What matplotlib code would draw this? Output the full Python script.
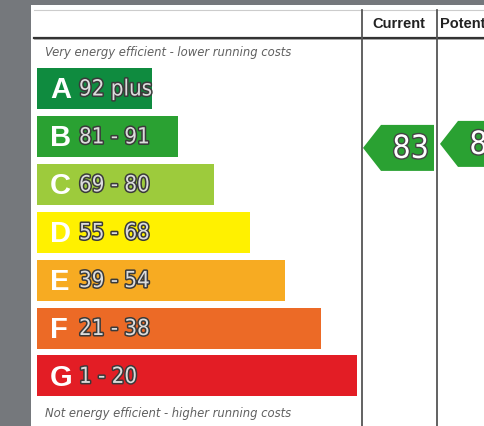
import matplotlib
matplotlib.use("Agg")
import matplotlib.pyplot as plt
from matplotlib.patches import Rectangle, Polygon
import matplotlib.patheffects as pe

# ---- data ----
bands = ["A", "B", "C", "D", "E", "F", "G"]
ranges = ["92 plus", "81 - 91", "69 - 80", "55 - 68", "39 - 54", "21 - 38", "1 - 20"]
band_lo = [92, 81, 69, 55, 39, 21, 1]
band_hi = [100, 91, 80, 68, 54, 38, 20]
colors = ["#0f8b3f", "#2aa132", "#9dcb3c", "#fff100", "#f7ab22", "#ec6a26", "#e31d25"]
headers = ["Current", "Potential"]
current = 83
potential = 84
top_note = "Very energy efficient - lower running costs"
bottom_note = "Not energy efficient - higher running costs"

W, H = 484, 427
fig = plt.figure(figsize=(W / 100, H / 100), dpi=100)
fig.patch.set_facecolor("#75787c")
ax = fig.add_axes([0, 0, 1, 1])
ax.set_xlim(0, W)
ax.set_ylim(H, 0)
ax.axis("off")

sans = ["Liberation Sans", "DejaVu Sans"]
cond = dict(family="DejaVu Sans", fontstretch="condensed")

# white panel
ax.add_patch(Rectangle((31, 6), 470, 440, facecolor="white", edgecolor="none"))
# table lines
ax.plot([34, 500], [11, 11], color="#cccccc", lw=0.8)
ax.plot([34, 500], [38.5, 38.5], color="#333333", lw=1.6)
ax.plot([34, 500], [40, 40], color="#999999", lw=0.6)
for x in (362, 436.5):
    ax.plot([x, x], [11, 430], color="#555555", lw=1.3)

ax.text(399, 24, headers[0], ha="center", va="center", fontsize=10.5,
        fontweight="bold", family=sans, color="#222222")
ax.text(440, 24, headers[1], ha="left", va="center", fontsize=10.5,
        fontweight="bold", family=sans, color="#222222")

ax.text(45, 52.5, top_note, ha="left", va="center", fontsize=9.3,
        style="italic", fontstretch="condensed", family="DejaVu Sans", color="#606060")
ax.text(45, 413.5, bottom_note, ha="left", va="center", fontsize=9.3,
        style="italic", fontstretch="condensed", family="DejaVu Sans", color="#606060")

# bars
bar_x0 = 37
bar_top0 = 69
pitch = 47.9
bar_h = 41
widths = [115, 141, 177, 213, 248, 284, 320]
stroke = [pe.withStroke(linewidth=2.2, foreground="#3a3a3a")]
for i, (b, r, c) in enumerate(zip(bands, ranges, colors)):
    y0 = bar_top0 + i * pitch
    ax.add_patch(Rectangle((bar_x0, y0), widths[i], bar_h, facecolor=c, edgecolor="none"))
    ax.text(bar_x0 + 13, y0 + bar_h / 2 + 1, b, ha="left", va="center",
            fontsize=21, fontweight="bold", family=sans, color="white")
    ax.text(bar_x0 + 42, y0 + bar_h / 2 + 1, r, ha="left", va="center",
            fontsize=16, color="#dcdcdc", path_effects=stroke, **cond)


def score_y(s):
    for i in range(len(bands)):
        if band_lo[i] <= s <= band_hi[i]:
            y0 = bar_top0 + i * pitch
            return y0 + (band_hi[i] - s) / (band_hi[i] - band_lo[i]) * (bar_h - 1)
    return 0


def arrow(xtip, xright, s, color):
    yc = score_y(s)
    h = 46
    pts = [(xtip, yc), (xtip + 18, yc - h / 2), (xright, yc - h / 2),
           (xright, yc + h / 2), (xtip + 18, yc + h / 2)]
    ax.add_patch(Polygon(pts, closed=True, facecolor=color, edgecolor="none"))
    ax.text(xright - 5, yc + 1.5, str(s), ha="right", va="center", fontsize=23,
            color="white",
            path_effects=[pe.withStroke(linewidth=2.0, foreground="#444444")], **cond)


arrow(363, 434, current, colors[1])
arrow(440, 511, potential, colors[1])

fig.savefig("out.png", dpi=100, facecolor=fig.get_facecolor())
